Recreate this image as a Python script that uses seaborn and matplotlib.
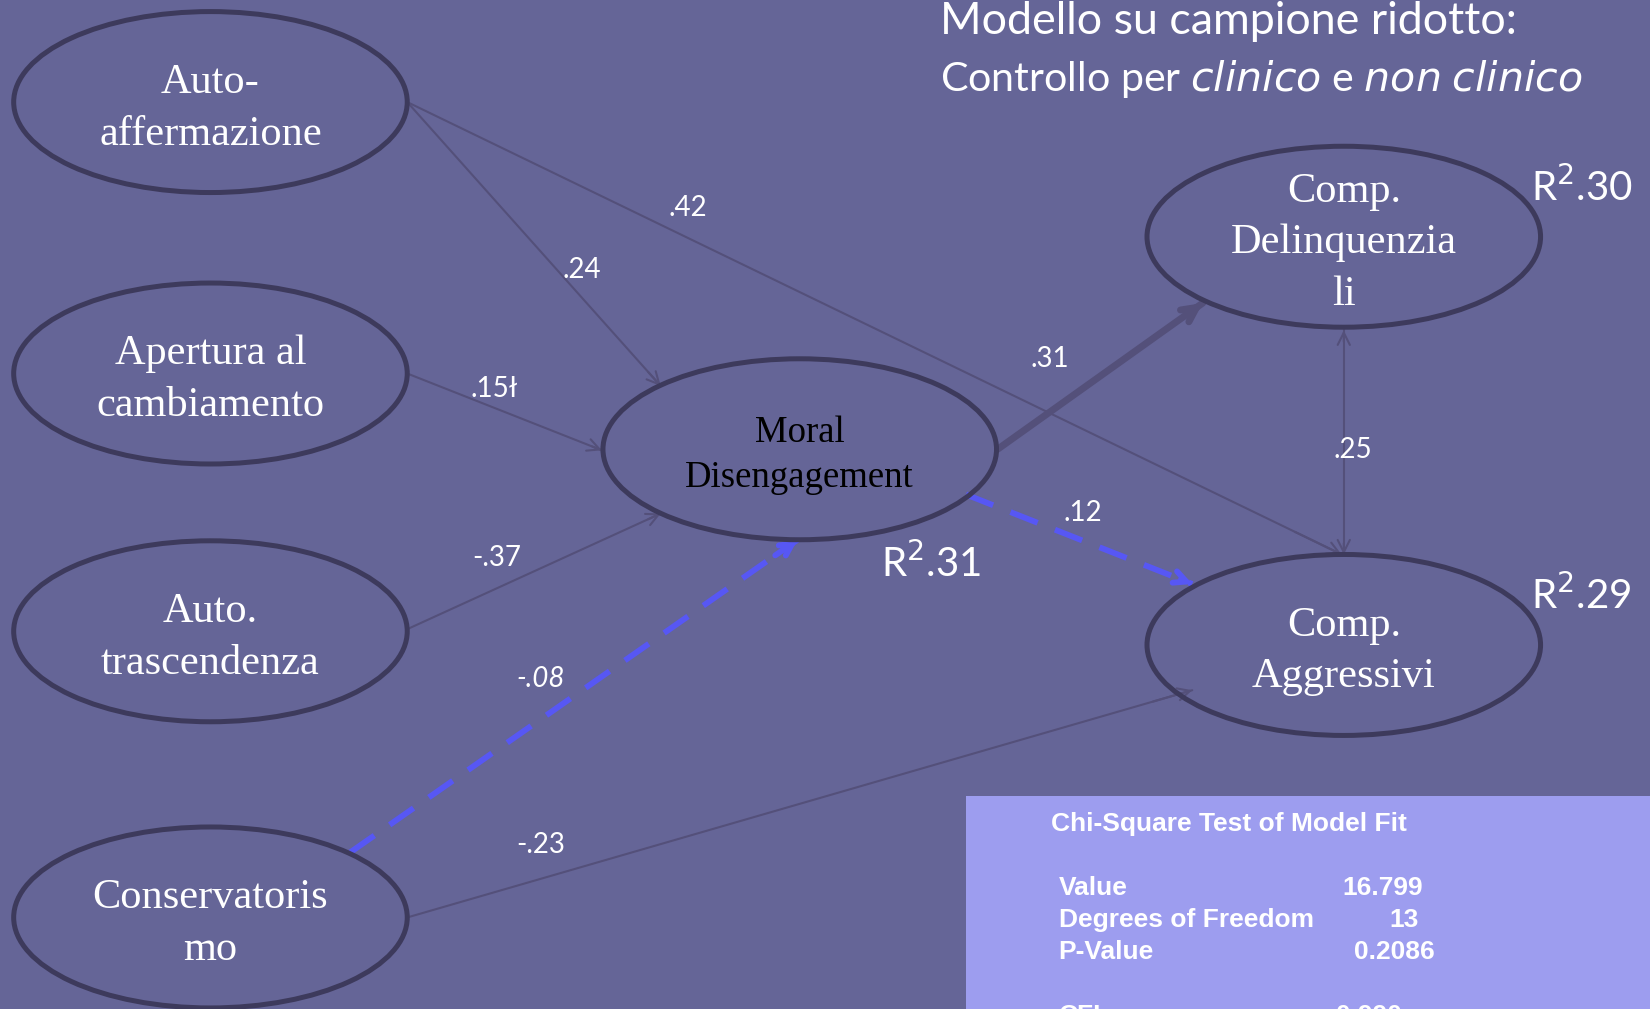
import matplotlib.pyplot as plt
from matplotlib.patches import Ellipse, Rectangle
import seaborn as sns
import pandas as pd

# ✅ nodi del modello (coordinate sul disegno, y verso il basso)
node_names = ["autoaff", "apertura", "trasc", "conserv", "md", "delinq", "aggr"]
node_labels = ["Auto-\naffermazione", "Apertura al\ncambiamento", "Auto.\ntrascendenza",
               "Conservatoris\nmo", "Moral\nDisengagement", "Comp.\nDelinquenzia\nli",
               "Comp.\nAggressivi"]
node_x = [200, 200, 200, 200, 760, 1277, 1277]
node_y = [97, 355, 600, 872, 427, 225, 613]

# ✅ percorsi: (da, a) punti di attacco + coefficiente
edge_from_x = [387, 387, 387, 387, 333, 387, 948, 918, 1277]
edge_from_y = [97, 97, 355, 598, 810, 872, 427, 470, 314]
edge_to_x = [628, 1275, 572, 628, 758, 1133, 1143, 1133, 1277]
edge_to_y = [367, 527, 428, 488, 513, 656, 288, 555, 527]
edge_labels = [".24", ".42", ".15ł", "-.37", "-.08", "-.23", ".31", ".12", ".25"]
edge_kind = ["thin", "thin", "thin", "thin", "dash", "thin", "thick", "dash", "both"]
label_x = [553, 654, 470, 472, 514, 514, 998, 1029, 1286]
label_y = [257, 198, 370, 530, 645, 803, 341, 488, 428]

r2_labels = ["R$^2$.30", "R$^2$.29", "R$^2$.31"]
r2_x = [1503, 1503, 885]
r2_y = [178, 566, 536]

fit_names = ["Value", "Degrees of Freedom", "P-Value", "", "CFI"]
fit_values = ["16.799", "13", "0.2086", "", "0.990"]
fit_value_x = [1276, 1320, 1287, 0, 1270]

bg = "#656597"
edge_col = "#3d3a5c"
line_col = "#54507a"
blue = "#5757f4"

sns.set_theme(style="white", rc={"axes.facecolor": bg, "figure.facecolor": bg})
plt.rcParams['font.family'] = ['Lato', 'DejaVu Sans']

fig = plt.figure(figsize=(16.5, 10.09), dpi=100)
ax = fig.add_axes([0, 0, 1, 1])
ax.set_xlim(0, 1568)
ax.set_ylim(959, 0)
ax.axis("off")

# ✅ ellissi
for i, name in enumerate(node_names):
    ax.add_patch(Ellipse((node_x[i], node_y[i]), 374, 172, facecolor="none",
                         edgecolor=edge_col, lw=3.6, zorder=3))
    col = "black" if name == "md" else "white"
    fs = 26.5 if name == "md" else 30.5
    ls = 1.4 if name == "md" else 1.45
    ax.text(node_x[i], node_y[i] + 6, node_labels[i], ha="center", va="center",
            color=col, fontsize=fs, family="Liberation Serif", linespacing=ls, zorder=4)

# ✅ frecce
edges = pd.DataFrame({"x0": edge_from_x, "y0": edge_from_y, "x1": edge_to_x,
                      "y1": edge_to_y, "kind": edge_kind})
for i, e in edges.iterrows():
    if e.kind == "dash":
        c, lw, ls, hs = blue, 4.2, (0, (5, 3.2)), 22
    elif e.kind == "thick":
        c, lw, ls, hs = line_col, 5, "-", 26
    else:
        c, lw, ls, hs = line_col, 1.5, "-", 22
    sns.lineplot(x=[e.x0, e.x1], y=[e.y0, e.y1], ax=ax, color=c, lw=lw,
                 linestyle=ls, sort=False, estimator=None, zorder=2)
    dx, dy = e.x1 - e.x0, e.y1 - e.y0
    ax.annotate("", xy=(e.x1, e.y1), xytext=(e.x1 - dx * 0.05, e.y1 - dy * 0.05),
                arrowprops=dict(arrowstyle="->", color=c, lw=lw, mutation_scale=hs,
                                shrinkA=0, shrinkB=0), zorder=2)
    if e.kind == "both":
        ax.annotate("", xy=(e.x0, e.y0), xytext=(e.x0 + dx * 0.05, e.y0 + dy * 0.05),
                    arrowprops=dict(arrowstyle="->", color=c, lw=lw, mutation_scale=hs,
                                    shrinkA=0, shrinkB=0), zorder=2)

for i, lab in enumerate(edge_labels):
    style = "italic" if lab == "-.08" else "normal"
    ax.text(label_x[i], label_y[i], lab, ha="center", va="center", color="white",
            fontsize=20, style=style, zorder=5)

for i, lab in enumerate(r2_labels):
    ax.text(r2_x[i], r2_y[i], lab, ha="center", va="center", color="white", fontsize=29)

# ✅ titolo
ax.text(893, 20, "Modello su campione ridotto:", ha="left", va="center",
        color="white", fontsize=32.2)
ax.text(893, 75, "Controllo per $\\it{clinico}$ e $\\it{non}$ $\\it{clinico}$", ha="left",
        va="center", color="white", fontsize=29.6)

# ✅ riquadro fit
ax.add_patch(Rectangle((918, 757), 700, 260, facecolor="#9d9def", edgecolor="none", zorder=1))
ax.text(999, 783, "Chi-Square Test of Model Fit", ha="left", va="center", color="white",
        fontsize=19, weight="bold", family="Liberation Sans", zorder=5)
for i, name in enumerate(fit_names):
    if not name:
        continue
    y = 844 + 30.5 * i
    ax.text(1006, y, name, ha="left", va="center", color="white", fontsize=19,
            weight="bold", family="Liberation Sans", zorder=5)
    ax.text(fit_value_x[i], y, fit_values[i], ha="left", va="center", color="white",
            fontsize=19, weight="bold", family="Liberation Sans", zorder=5)

fig.savefig("out.png", dpi=100, facecolor=bg)
